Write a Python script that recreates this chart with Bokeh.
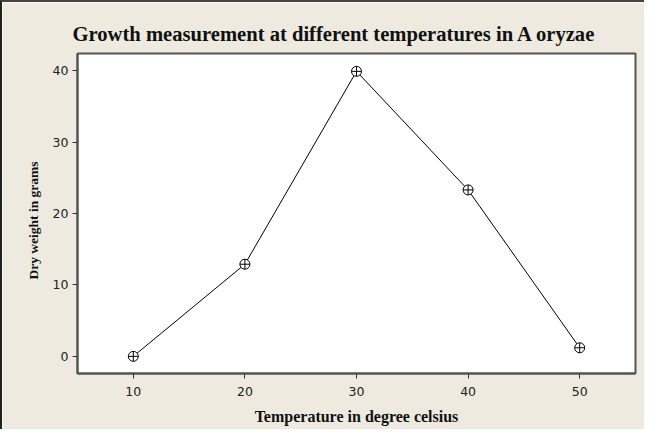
from bokeh.plotting import figure
from bokeh.embed import file_html
from bokeh.resources import INLINE
from bokeh.models import Range1d, FixedTicker, ColumnDataSource, Title

# Data
temperature = [10, 20, 30, 40, 50]
dry_weight = [0.0, 12.9, 39.9, 23.3, 1.2]
x_ticks = [10, 20, 30, 40, 50]
y_ticks = [0, 10, 20, 30, 40]

title_text = "Growth measurement at different temperatures in A oryzae"
x_label = "Temperature in degree celsius"
y_label = "Dry weight in grams"

BG = "#EEEAE0"
FRAME = "#555555"

source = ColumnDataSource(data=dict(x=temperature, y=dry_weight))

p = figure(
    width=642, height=427,
    frame_width=558, frame_height=320,
    min_border_left=75, min_border_right=9, min_border_top=51, min_border_bottom=56,
    x_range=Range1d(5, 55), y_range=Range1d(-2.4, 42.4),
    output_backend="svg", toolbar_location=None,
)

p.background_fill_color = "white"
p.border_fill_color = BG
p.outline_line_color = FRAME
p.outline_line_width = 2
p.styles = {"border-left": "2px solid #222222", "border-top": "2px solid #444444"}

ptitle = Title(text=title_text, align="left", offset=-5, standoff=17,
               text_font="Liberation Serif", text_font_style="bold",
               text_font_size="20.6px", text_color="#111111")
p.add_layout(ptitle, "above")

p.xgrid.visible = False
p.ygrid.visible = False

for ax in (p.xaxis[0], p.yaxis[0]):
    ax.axis_line_color = FRAME
    ax.axis_line_width = 2
    ax.major_tick_line_color = "#333333"
    ax.major_tick_line_width = 1
    ax.major_tick_in = 0
    ax.major_tick_out = 5
    ax.minor_tick_line_color = None
    ax.major_label_text_font = "DejaVu Sans"
    ax.major_label_text_font_size = "12.5px"
    ax.major_label_text_color = "#222222"
    ax.axis_label_text_font = "Liberation Serif"
    ax.axis_label_text_font_style = "bold"
    ax.axis_label_text_font_size = "16px"
    ax.axis_label_text_color = "#111111"

p.xaxis[0].ticker = FixedTicker(ticks=x_ticks)
p.yaxis[0].ticker = FixedTicker(ticks=y_ticks)
p.xaxis[0].axis_label = x_label
p.xaxis[0].major_label_standoff = 8
p.yaxis[0].major_label_standoff = 4
p.xaxis[0].axis_label_standoff = 9

# y-axis label as a side title so it can sit slightly below the frame centre
ytitle = Title(text=y_label, align="left", offset=94, standoff=18,
               text_font="Liberation Serif", text_font_style="bold",
               text_font_size="13.5px", text_color="#111111")
p.add_layout(ytitle, "left")

p.line("x", "y", source=source, line_color="black", line_width=1)
p.scatter("x", "y", source=source, marker="circle_cross", size=10,
          line_color="black", line_width=1, fill_color="white")

open("out.html", "w").write(file_html(p, INLINE))
